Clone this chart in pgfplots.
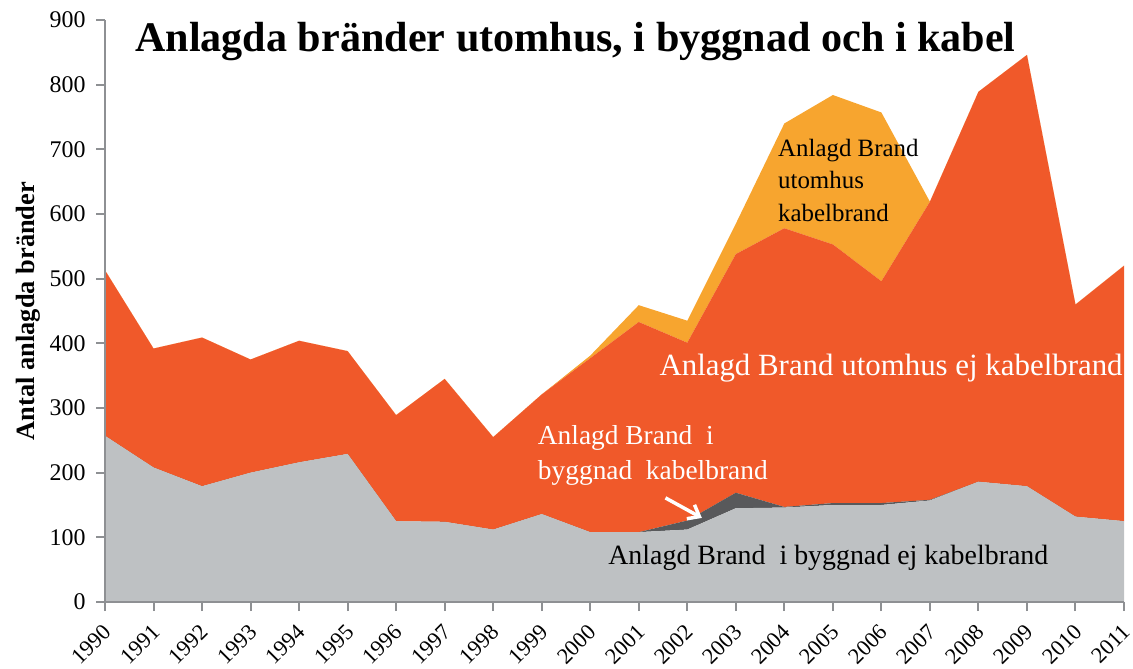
\documentclass[border=0pt]{standalone}
\usepackage{fontspec}
\setmainfont{Liberation Serif}
\usepackage{pgfplots}
\usepackage{pgfplotstable}
\pgfplotsset{compat=1.18}
\usetikzlibrary{arrows.meta}
\definecolor{cgray}{HTML}{BEC1C3}
\definecolor{cdark}{HTML}{58595B}
\definecolor{cred}{HTML}{F0592A}
\definecolor{cyellow}{HTML}{F7A52F}
\definecolor{axisgray}{HTML}{8E9093}

\pgfplotstableread{
year gray dark red yellow
1990 257 0 256 0
1991 208 0 184 0
1992 179 0 230 0
1993 200 0 175 0
1994 216 0 188 0
1995 229 0 159 0
1996 125 0 164 0
1997 124 0 221 0
1998 112 0 143 0
1999 136 0 185 0
2000 108 0 269 4
2001 108 0 325 26
2002 112 14 275 34
2003 145 24 369 47
2004 146 1 431 162
2005 150 3 400 231
2006 150 3 343 261
2007 157 1 461 0
2008 186 0 603 0
2009 179 0 667 0
2010 132 0 328 0
2011 125 0 395 0
}\data

\begin{document}
\begin{tikzpicture}
\begin{axis}[
  name=ax,
  scale only axis, width=1019bp, height=582bp,
  xmin=1990, xmax=2011, ymin=0, ymax=900,
  axis x line=bottom, axis y line=left,
  axis line style={-, draw=axisgray, line width=2.5pt},
  xtick={1990,...,2011}, ytick={0,100,...,900},
  tick align=outside, major tick length=9bp,
  tick style={draw=axisgray, line width=2pt},
  /pgf/number format/assume math mode=true,
  xticklabel style={xshift=-3bp, yshift=-7bp, rotate=45, anchor=north east, font=\fontsize{22.5}{22.5}\selectfont, /pgf/number format/1000 sep={}},
  yticklabel style={xshift=-7bp, font=\fontsize{24}{24}\selectfont},
  ylabel={Antal anlagda bränder},
  ylabel style={font=\fontsize{26.5}{26.5}\selectfont\bfseries, yshift=2bp},
  stack plots=y,
  axis on top,
  clip=false,
]
\addplot[fill=cgray, draw=none] table[x=year, y=gray]{\data} \closedcycle;
\addplot[fill=cdark, draw=none] table[x=year, y=dark]{\data} \closedcycle;
\addplot[fill=cred, draw=none] table[x=year, y=red]{\data} \closedcycle;
\addplot[fill=cyellow, draw=none] table[x=year, y=yellow]{\data} \closedcycle;

\coordinate (ttl) at (axis cs:1990.55,866);
\coordinate (t1) at (axis cs:2006.2,362);
\coordinate (t2) at (axis cs:1998.85,227);
\coordinate (t3) at (axis cs:2003.8,652);
\coordinate (t4) at (axis cs:2000.3,68);
\coordinate (a1) at (axis cs:2001.55,161);
\coordinate (a2) at (axis cs:2002.3,130);
\end{axis}
\node[anchor=west, font=\fontsize{42.3}{44}\selectfont\bfseries] at (ttl) {Anlagda bränder utomhus, i byggnad och i kabel};
\node[font=\fontsize{31}{31}\selectfont, text=white] at (t1) {Anlagd Brand utomhus ej kabelbrand};
\node[anchor=west, align=left, font=\fontsize{27.5}{35}\selectfont, text=white] at (t2) {Anlagd Brand\ \ i\\byggnad\ \ kabelbrand};
\node[anchor=west, align=left, font=\fontsize{25}{33}\selectfont, text=black] at (t3) {Anlagd Brand\\utomhus\\kabelbrand};
\node[anchor=west, font=\fontsize{28}{28}\selectfont, text=black] at (t4) {Anlagd Brand\ \ i byggnad ej kabelbrand};
\draw[white, line width=3.5pt, -{Straight Barb[length=10pt, width=16pt]}] (a1) -- (a2);
\pgfresetboundingbox
\path ([shift={(-105bp,-66bp)}]ax.south west) rectangle ([shift={(9bp,20bp)}]ax.north east);
\end{tikzpicture}
\end{document}
